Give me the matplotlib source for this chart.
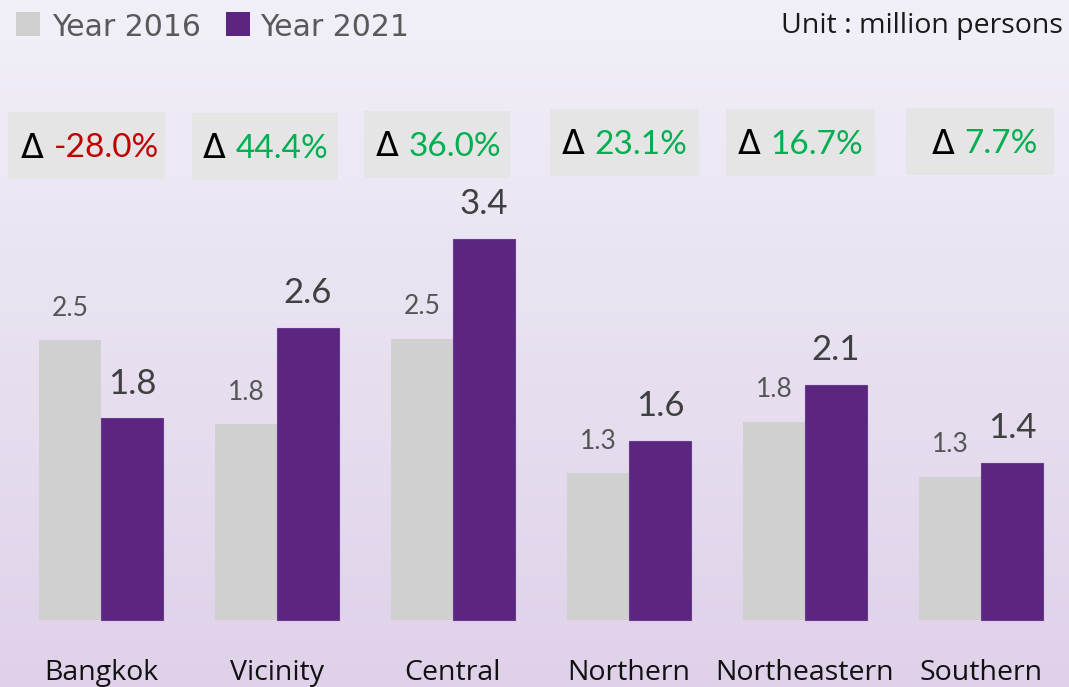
import numpy as np
import matplotlib.pyplot as plt
from matplotlib.patches import Rectangle

# data (bar heights, labels shown at one decimal)
regions = ["Bangkok", "Vicinity", "Central", "Northern", "Northeastern", "Southern"]
y2016 = [2.50, 1.75, 2.51, 1.31, 1.77, 1.28]
y2021 = [1.80, 2.61, 3.40, 1.60, 2.10, 1.40]
change = [-28.0, 44.4, 36.0, 23.1, 16.7, 7.7]

GRAY = "#d0d0d0"
PURPLE = "#5b2580"
LABEL = "#555555"

W, H = 1069, 687
fig = plt.figure(figsize=(W / 100, H / 100), dpi=100)
ax = fig.add_axes([0, 0, 1, 1])

# pixel -> data helpers (layout only)
def xd(px):
    return (px - 101) / 176

def yd(py):
    return (620 - py) / 112

ax.set_xlim(xd(0), xd(W))
ax.set_ylim(yd(H), yd(0))
ax.axis("off")

# background gradient
grad = np.linspace(0, 1, 256).reshape(-1, 1)
top = np.array([241, 240, 248]) / 255
bot = np.array([223, 209, 233]) / 255
img = top + (bot - top) * grad[..., None]
ax.imshow(img, extent=(xd(0), xd(W), yd(H), yd(0)), aspect="auto", zorder=0)

x = np.arange(len(regions))
w = 62 / 176
ax.bar(x - w / 2, y2016, w, color=GRAY, zorder=2)
ax.bar(x + w / 2, y2021, w, color=PURPLE, edgecolor="#6a3a90", linewidth=0.8, zorder=2)

for i in range(len(regions)):
    ax.annotate(f"{y2016[i]:.1f}", (x[i] - w / 2, y2016[i]), xytext=(0, 23),
                textcoords="offset points", ha="center", va="center",
                fontsize=19, color=LABEL, family="Lato", zorder=3)
    ax.annotate(f"{y2021[i]:.1f}", (x[i] + w / 2, y2021[i]), xytext=(0, 25),
                textcoords="offset points", ha="center", va="center",
                fontsize=25, color="#404040", family="Lato", zorder=3)
    ax.text(x[i], yd(680), regions[i], ha="center", va="baseline",
            fontsize=20.5, color="#111111", family="Open Sans", zorder=3)

# change boxes
box_l = [8, 192, 364, 550, 726, 906]
box_r = [165, 338, 510, 699, 875, 1054]
box_t = [112, 113, 111, 109, 109, 108]
delta_x = [21, 203, 376, 562, 738, 932]
for i in range(len(regions)):
    ax.add_patch(Rectangle((xd(box_l[i]), yd(box_t[i] + 67)),
                           xd(box_r[i]) - xd(box_l[i]), 67 / 112,
                           facecolor="#e5e5e5", edgecolor="none", zorder=2))
    cy = yd(box_t[i] + 36)
    d = ax.text(xd(delta_x[i]), cy, "Δ", ha="left", va="center",
                fontsize=24, color="black", family="DejaVu Sans", zorder=3)
    col = "#c00000" if change[i] < 0 else "#00b050"
    ax.annotate(f"{change[i]:.1f}%", xy=(1, 0.5), xycoords=d, xytext=(7, 0),
                textcoords="offset points", ha="left", va="center",
                fontsize=24, color=col, family="Lato", zorder=3)

# legend
fig.patches.append(Rectangle((16 / W, 1 - 36 / H), 24 / W, 24 / H,
                             transform=fig.transFigure, facecolor=GRAY, edgecolor="none"))
fig.patches.append(Rectangle((226 / W, 1 - 36 / H), 24 / W, 24 / H,
                             transform=fig.transFigure, facecolor=PURPLE, edgecolor="none"))
fig.text(52 / W, 1 - 36 / H, "Year 2016", fontsize=21.5, color="#595959",
         family="DejaVu Sans", va="baseline")
fig.text(260 / W, 1 - 36 / H, "Year 2021", fontsize=21.5, color="#595959",
         family="DejaVu Sans", va="baseline")
fig.text(1063 / W, 1 - 33 / H, "Unit : million persons", fontsize=20.5, color="#1a1a1a",
         family="Open Sans", ha="right", va="baseline")

fig.savefig("out.png", dpi=100)
